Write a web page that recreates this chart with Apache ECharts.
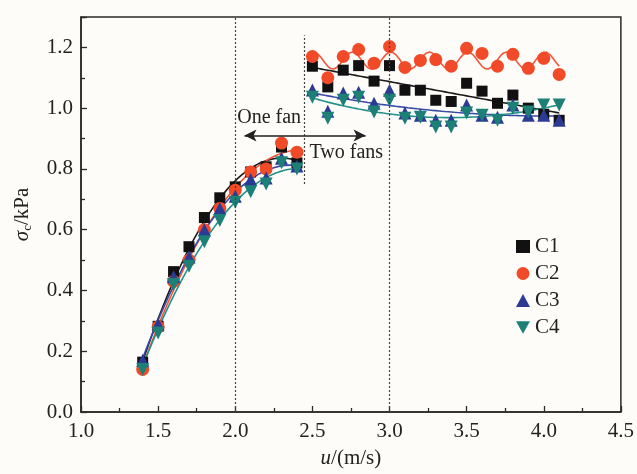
<!DOCTYPE html>
<html><head><meta charset="utf-8">
<script src="https://cdn.jsdelivr.net/npm/echarts@6/dist/echarts.min.js"></script>
<style>html,body{margin:0;padding:0;background:#fdfcf9}#c{width:637px;height:474px}</style>
</head><body><div id="c"></div>
<script>
// ---- data ----
const xLeft  = [1.4,1.5,1.6,1.7,1.8,1.9,2.0,2.1,2.2,2.3,2.4];
const c1Left = [0.164,0.282,0.462,0.544,0.640,0.705,0.741,0.790,0.807,0.872,0.820];
const c2Left = [0.140,0.280,0.430,0.500,0.600,0.670,0.730,0.790,0.800,0.885,0.855];
const c3Left = [0.170,0.290,0.445,0.510,0.600,0.670,0.710,0.765,0.770,0.835,0.810];
const c4Left = [0.140,0.260,0.420,0.480,0.560,0.630,0.690,0.725,0.750,0.820,0.800];

const xRight  = [2.5,2.6,2.7,2.8,2.9,3.0,3.1,3.2,3.3,3.4,3.5,3.6,3.7,3.8,3.9,4.0,4.1];
const c1Right = [1.138,1.070,1.125,1.140,1.089,1.140,1.059,1.059,1.026,1.022,1.082,1.056,1.016,1.043,1.000,0.980,0.960];
const c2Right = [1.170,1.100,1.170,1.193,1.148,1.203,1.134,1.157,1.160,1.138,1.197,1.180,1.138,1.177,1.131,1.164,1.111];
const c3Right = [1.060,0.990,1.050,1.052,1.016,1.059,0.984,0.977,0.960,0.960,1.010,0.977,0.970,1.010,0.977,0.977,0.960];
const c4Right = [1.036,0.967,1.026,1.036,0.987,1.026,0.967,0.970,0.938,0.938,0.984,0.977,0.960,1.000,0.987,1.010,1.010];

const seriesNames = ['C1','C2','C3','C4'];
const colors = ['#111111','#f04a28','#2b3a93','#1d8077'];
const lineColors = ['#1a1a1a','#f2553a','#3a4aa8','#23938a'];
const symbols = ['rect','circle','triangle','triangle'];
const symbolRotates = [0,0,0,180];
const symbolSizes = [11,13,13,13];

const xTicks = {min:1.0, max:4.5, interval:0.5};
const yTicks = {min:0.0, max:1.3, interval:0.2};
const refLinesFull = [2.0, 3.0];
const refLinePartial = {x:2.45, y0:0.75, y1:1.24};
const arrowSpan = {x0:2.06, x1:2.845, y:0.91};
const oneFanPos = [2.22, 0.97];
const twoFansPos = [2.72, 0.852];
const fitRangeLeft = [1.4, 2.43];
const fitRangeRight = [2.5, 4.1];

// ---- least-squares fitting helpers ----
function solve(A, b){
  const n=b.length; A=A.map((r,i)=>r.concat([b[i]]));
  for(let i=0;i<n;i++){
    let p=i; for(let k=i+1;k<n;k++) if(Math.abs(A[k][i])>Math.abs(A[p][i])) p=k;
    [A[i],A[p]]=[A[p],A[i]];
    for(let k=i+1;k<n;k++){const f=A[k][i]/A[i][i]; for(let j=i;j<=n;j++) A[k][j]-=f*A[i][j];}
  }
  const x=new Array(n).fill(0);
  for(let i=n-1;i>=0;i--){let s=A[i][n]; for(let j=i+1;j<n;j++) s-=A[i][j]*x[j]; x[i]=s/A[i][i];}
  return x;
}
function lsq(xs, ys, basis){
  const m=basis.length, A=[], b=[];
  for(let i=0;i<m;i++){A.push(new Array(m).fill(0)); b.push(0);}
  xs.forEach((x,k)=>{const f=basis.map(g=>g(x));
    for(let i=0;i<m;i++){b[i]+=f[i]*ys[k]; for(let j=0;j<m;j++) A[i][j]+=f[i]*f[j];}});
  const c=solve(A,b);
  return x=>basis.reduce((s,g,i)=>s+c[i]*g(x),0);
}
const poly = d => Array.from({length:d+1},(_,p)=>x=>Math.pow(x-2.5,p));
const K = 2*Math.PI/0.25;
const sine = [x=>1, x=>Math.sin(K*x), x=>Math.cos(K*x)];
function curve(fn, range){
  const pts=[]; const n=80;
  for(let i=0;i<=n;i++){const x=range[0]+(range[1]-range[0])*i/n; pts.push([x,fn(x)]);}
  return pts;
}
const leftData = [c1Left,c2Left,c3Left,c4Left];
const rightData = [c1Right,c2Right,c3Right,c4Right];
const rightBasis = [poly(1), sine, poly(2), poly(2)];

const series = [];
for(let i=0;i<4;i++){
  const fl = lsq(xLeft, leftData[i], poly(2));
  const fr = lsq(xRight, rightData[i], rightBasis[i]);
  [curve(fl,fitRangeLeft), curve(fr,fitRangeRight)].forEach(d=>{
    series.push({type:'line', data:d, showSymbol:false, symbol:'none', silent:true,
      lineStyle:{color:lineColors[i], width:1.6}, z:2});
  });
}
for(let i=0;i<4;i++){
  const pts = xLeft.map((x,k)=>[x,leftData[i][k]]).concat(xRight.map((x,k)=>[x,rightData[i][k]]));
  series.push({type:'scatter', name:seriesNames[i], data:pts, symbol:symbols[i],
    symbolRotate:symbolRotates[i], symbolSize:symbolSizes[i],
    itemStyle:{color:colors[i], opacity:1}, z:3});
}
series.push({type:'line', data:[], silent:true, z:1,
  markLine:{silent:true, symbol:['none','none'], label:{show:false},
    lineStyle:{color:'#444', type:[2,2], width:1.2},
    data: refLinesFull.map(v=>({xAxis:v})).concat([[{coord:[refLinePartial.x,refLinePartial.y0]},{coord:[refLinePartial.x,refLinePartial.y1]}]])}});
series.push({type:'line', data:[], silent:true, z:4,
  markLine:{silent:true, symbol:['arrow','arrow'], symbolSize:[9,12], label:{show:false},
    lineStyle:{color:'#222', type:'solid', width:1.5},
    data:[[{coord:[arrowSpan.x0,arrowSpan.y]},{coord:[arrowSpan.x1,arrowSpan.y]}]]}});

const font = 'Liberation Serif, Times New Roman, serif';
const legendIcons = ['rect','circle','triangle','path://M0,0 L10,0 L5,9 Z'];
const chart = echarts.init(document.getElementById('c'));
chart.setOption({
  backgroundColor:'#fdfcf9',
  animation:false,
  grid:{left:81, right:12, top:17, bottom:61, show:true, borderColor:'#2a2a2a', borderWidth:1.5, backgroundColor:'transparent'},
  legend:{orient:'vertical', left:511, top:231, itemWidth:14, itemHeight:13, itemGap:6,
    data:seriesNames.map((n,i)=>({name:n, icon:legendIcons[i]})),
    textStyle:{fontFamily:font, fontSize:21, color:'#222'}},
  xAxis:{type:'value', min:xTicks.min, max:xTicks.max, interval:xTicks.interval,
    name:'{i|u}{n|/(m/s)}', nameLocation:'middle', nameGap:36,
    nameTextStyle:{rich:{i:{fontFamily:font,fontSize:21,fontStyle:'italic',color:'#222'},n:{fontFamily:font,fontSize:21,color:'#222'}}},
    axisLine:{show:true, lineStyle:{color:'#2a2a2a', width:1.5}},
    axisTick:{show:true, inside:true, length:6, lineStyle:{color:'#2a2a2a', width:1.3}},
    minorTick:{show:true, splitNumber:2, length:4, lineStyle:{color:'#2a2a2a', width:1.3}},
    splitLine:{show:false},
    axisLabel:{fontFamily:font, fontSize:21, color:'#222', margin:9, formatter:v=>v.toFixed(1)}},
  yAxis:{type:'value', min:yTicks.min, max:yTicks.max, interval:yTicks.interval,
    name:'{i|σ}{s|c}{n|/kPa}', nameLocation:'middle', nameGap:47, nameRotate:90,
    nameTextStyle:{rich:{i:{fontFamily:font,fontSize:21,fontStyle:'italic',color:'#222'},
      s:{fontFamily:font,fontSize:13,color:'#222',padding:[10,0,0,0]},
      n:{fontFamily:font,fontSize:21,color:'#222'}}},
    axisLine:{show:true, lineStyle:{color:'#2a2a2a', width:1.5}},
    axisTick:{show:true, inside:true, length:6, lineStyle:{color:'#2a2a2a', width:1.3}},
    minorTick:{show:true, splitNumber:2, length:4, lineStyle:{color:'#2a2a2a', width:1.3}},
    splitLine:{show:false},
    axisLabel:{fontFamily:font, fontSize:21, color:'#222', margin:8, showMaxLabel:false,
      formatter:v=> (Math.abs(v-1.3)<1e-9 ? '' : v.toFixed(1))}},
  series: series
});
const p1 = chart.convertToPixel({gridIndex:0}, oneFanPos);
const p2 = chart.convertToPixel({gridIndex:0}, twoFansPos);
chart.setOption({graphic:[
  {type:'text', x:p1[0], y:p1[1], z:10, style:{text:'One fan', font:'20px '+font, fill:'#222', align:'center', verticalAlign:'middle'}},
  {type:'text', x:p2[0], y:p2[1], z:10, style:{text:'Two fans', font:'20px '+font, fill:'#222', align:'center', verticalAlign:'middle', backgroundColor:'#fdfcf9'}}
]});
</script></body></html>
